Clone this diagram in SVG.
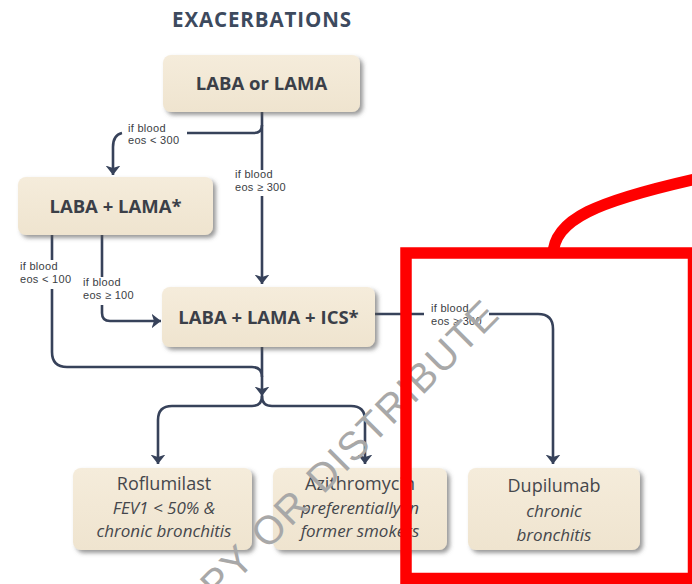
<svg xmlns="http://www.w3.org/2000/svg" width="692" height="584" viewBox="0 0 692 584">
  <defs>
    <filter id="shadow" x="-10%" y="-15%" width="125%" height="140%">
      <feDropShadow dx="3" dy="3" stdDeviation="2.2" flood-color="#555" flood-opacity="0.6"/>
    </filter>
    <linearGradient id="boxfill" x1="0" y1="0" x2="0" y2="1">
      <stop offset="0" stop-color="#f5ecdb"/>
      <stop offset="1" stop-color="#efe4cf"/>
    </linearGradient>
    <marker id="arrow" viewBox="0 -8 10 16" refX="9.5" refY="0" markerWidth="10" markerHeight="16" markerUnits="userSpaceOnUse" orient="auto">
      <path d="M0,-7.5 L9.5,0 L0,7.5 L2.5,0 z" fill="#37425a"/>
    </marker>
  </defs>
  <style>
    .box { fill: url(#boxfill); filter: url(#shadow); }
    .bold { font-family: "Open Sans", "Liberation Sans", sans-serif; font-weight: bold; font-size: 18.5px; fill: #3b3f48; text-anchor: middle; }
    .name { font-family: "Open Sans", "Liberation Sans", sans-serif; font-size: 18px; fill: #45474c; text-anchor: middle; }
    .note { font-family: "Open Sans", "Liberation Sans", sans-serif; font-style: italic; font-size: 17px; fill: #45474c; text-anchor: middle; }
    .lbl { font-family: "Liberation Sans", "Open Sans", sans-serif; font-size: 11px; letter-spacing: 0.3px; fill: #3a3d44; }
    .wire { fill: none; stroke: #37425a; stroke-width: 2.6; }
    .head { marker-end: url(#arrow); }
    .title { font-family: "Open Sans", "Liberation Sans", sans-serif; font-weight: bold; font-size: 20.5px; letter-spacing: 0.9px; fill: #3d4a5e; text-anchor: middle; }
    .mark { font-family: "Liberation Sans", "DejaVu Sans", sans-serif; font-size: 40px; letter-spacing: 1.5px; word-spacing: 3px; fill: #a8a8a8; }
    .hi { fill: none; stroke: #ff0000; stroke-width: 11.5; }
  </style>

  <rect width="692" height="584" fill="#ffffff"/>

  <text class="title" x="262" y="27">EXACERBATIONS</text>

  <!-- connectors -->
  <g id="connectors">
    <!-- LABA or LAMA to triple therapy (eos >= 300) -->
    <path class="wire" d="M262,112 V170"/>
    <path class="wire head" d="M262,196 V284"/>
    <!-- LABA or LAMA to dual therapy (eos < 300) -->
    <path class="wire" d="M187,133 H254 Q262,133 262,125"/>
    <path class="wire head" d="M122,133 Q113,135 113,147 V175"/>
    <!-- dual therapy to triple therapy (eos >= 100) -->
    <path class="wire" d="M102,235 V277"/>
    <path class="wire head" d="M102,305 V313 Q102,321 110,321 H161"/>
    <!-- dual therapy, eos < 100, joins the lower trunk -->
    <path class="wire" d="M52,235 V260"/>
    <path class="wire" d="M52,289 V352 Q52,367 67,367 H252 Q262,367 262,377"/>
    <!-- triple therapy down to split -->
    <path class="wire head" d="M262,347 V396"/>
    <path class="wire head" d="M262,396 Q262,406 252,406 H172 Q158,406 158,420 V464"/>
    <path class="wire head" d="M262,396 Q262,406 272,406 H351 Q365,406 365,420 V464"/>
    <!-- triple therapy to Dupilumab -->
    <path class="wire" d="M375,314 H424"/>
    <path class="wire head" d="M489,314 H538 Q553,314 553,329 V464"/>
  </g>

  <!-- edge labels -->
  <g id="labels">
    <text class="lbl" x="128" y="131.5">if blood<tspan x="128" dy="12.5">eos &lt; 300</tspan></text>
    <text class="lbl" x="235" y="178">if blood<tspan x="235" dy="12.5">eos ≥ 300</tspan></text>
    <text class="lbl" x="20" y="270">if blood<tspan x="20" dy="12.5">eos &lt; 100</tspan></text>
    <text class="lbl" x="83" y="286">if blood<tspan x="83" dy="12.5">eos ≥ 100</tspan></text>
    <text class="lbl" x="431" y="312">if blood<tspan x="431" dy="12.5">eos ≥ 300</tspan></text>
  </g>

  <g id="laba-or-lama">
    <rect class="box" x="163" y="55" width="197" height="57" rx="8"/>
    <text class="bold" x="261.5" y="90">LABA or LAMA</text>
  </g>

  <g id="laba-lama">
    <rect class="box" x="18" y="177" width="195" height="58" rx="8"/>
    <text class="bold" x="115.5" y="213">LABA + LAMA*</text>
  </g>

  <g id="laba-lama-ics">
    <rect class="box" x="162" y="287" width="213" height="60" rx="8"/>
    <text class="bold" x="268.5" y="324">LABA + LAMA + ICS*</text>
  </g>

  <g id="roflumilast">
    <rect class="box" x="73" y="468" width="179" height="82" rx="8"/>
    <text class="name" x="164" y="490">Roflumilast</text>
    <text class="note" x="164" y="513.5">FEV1 &lt; 50% &amp;</text>
    <text class="note" x="164" y="537">chronic bronchitis</text>
  </g>

  <g id="azithromycin">
    <rect class="box" x="273" y="468" width="174" height="82" rx="8"/>
    <text class="name" x="360" y="490">Azithromycin</text>
    <text class="note" x="360" y="513.5">preferentially in</text>
    <text class="note" x="360" y="537">former smokers</text>
  </g>

  <g id="dupilumab">
    <rect class="box" x="468" y="468" width="172" height="82" rx="8"/>
    <text class="name" x="554" y="492">Dupilumab</text>
    <text class="note" x="554" y="516.5">chronic</text>
    <text class="note" x="554" y="540.5">bronchitis</text>
  </g>

  <!-- diagonal watermark -->
  <text class="mark" x="217" y="601" transform="rotate(-45 217 601)">PY OR DISTRIBUTE</text>

  <!-- red callout frame -->
  <g id="callout">
    <path class="hi" d="M553,256 C553,219 597,201 700,178"/>
    <rect class="hi" x="406" y="253" width="287.5" height="325.5"/>
  </g>
</svg>
